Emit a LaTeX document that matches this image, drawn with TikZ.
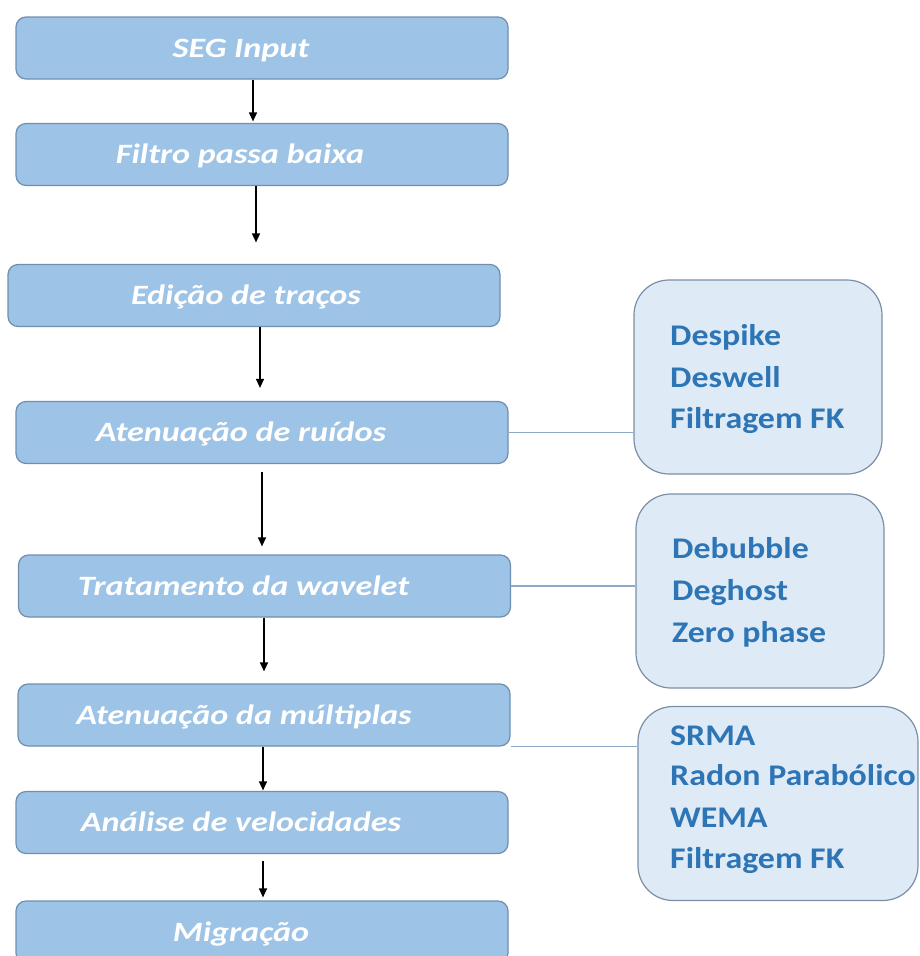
\documentclass[tikz,border=0pt]{standalone}
\usepackage{fontspec}
\setmainfont{Carlito}
\newfontfamily\stepfont[FakeStretch=1.22]{Carlito}
\newfontfamily\sidefont[FakeStretch=1.13]{Carlito}
\usetikzlibrary{arrows.meta,calc}
\definecolor{mainfill}{HTML}{9DC3E6}
\definecolor{mainedge}{HTML}{6F8FAF}
\definecolor{sidefill}{HTML}{DEEBF7}
\definecolor{sideedge}{HTML}{7A8FA6}
\definecolor{sidetext}{HTML}{2E75B6}
\definecolor{linkcol}{HTML}{8EA9C8}
\begin{document}
\begin{tikzpicture}[x=1pt,y=-1pt,
  stepbox/.style={draw=mainedge, fill=mainfill, line width=1.2pt, rounded corners=10pt,
    minimum width=492pt, minimum height=62pt, inner sep=0pt},
  steptext/.style={text=white, font=\stepfont\fontsize{28}{32}\selectfont\bfseries\itshape,
    inner sep=0pt, anchor=base},
  sidebox/.style={draw=sideedge, fill=sidefill, line width=1.2pt, rounded corners=35pt,
    minimum height=194pt, inner sep=0pt},
  sidetxt/.style={font=\sidefont\fontsize{30}{36}\selectfont\bfseries, text=sidetext,
    inner sep=0pt, anchor=base west},
  flow/.style={-{Triangle[length=9pt,width=8pt]}, line width=1.2pt, black},
  link/.style={draw=linkcol, line width=1.3pt}]
\useasboundingbox (0,0) rectangle (920,956);

% main flow boxes
\node[stepbox] (b1) at (262,48) {};
\node[stepbox] (b2) at (262,154.5) {};
\node[stepbox] (b3) at (254,295.5) {};
\node[stepbox] (b4) at (262,432.5) {};
\node[stepbox] (b5) at (264.5,586) {};
\node[stepbox] (b6) at (264,715) {};
\node[stepbox] (b7) at (262,822.5) {};
\node[stepbox] (b8) at (262,932) {};

% texts
\node[steptext] (t1) at ($(b1.center)+(-21,9)$) {SEG Input};
\node[steptext] (t2) at ($(b2.center)+(-22,9)$) {Filtro passa baixa};
\node[steptext] (t3) at ($(b3.center)+(-8,9)$) {Edição de traços};
\node[steptext] (t4) at ($(b4.center)+(-21,9)$) {Atenuação de ruídos};
\node[steptext] (t5) at ($(b5.center)+(-21,9)$) {Tratamento da wavelet};
\node[steptext] (t6) at ($(b6.center)+(-20,9)$) {Atenuação da múltiplas};
\node[steptext] (t7) at ($(b7.center)+(-21,9)$) {Análise de velocidades};
\node[steptext] (t8) at ($(b8.center)+(-21,9)$) {Migração};

% side boxes
\node[sidebox, minimum width=248pt] (sA) at (758,377) {};
\node[sidebox, minimum width=248pt] (sB) at (760,591) {};
\node[sidebox, minimum width=280pt] (sC) at (778,803.5) {};

\node[sidetxt] (a1) at (670,345) {Despike};
\node[sidetxt] (a2) at (670,387) {Deswell};
\node[sidetxt] (a3) at (670,428) {Filtragem FK};
\node[sidetxt] (w1) at (672,558) {Debubble};
\node[sidetxt] (w2) at (672,600) {Deghost};
\node[sidetxt] (w3) at (672,642) {Zero phase};
\node[sidetxt] (m1) at (670,745) {SRMA};
\node[sidetxt] (m2) at (670,785) {Radon Parabólico};
\node[sidetxt] (m3) at (670,827) {WEMA};
\node[sidetxt] (m4) at (670,868) {Filtragem FK};

% links
\draw[link] (b4.east) -- (b4.east -| sA.west);
\draw[link] (b5.east) -- (b5.east -| sB.west);
\draw[link] (b6.south east) -- (b6.south east -| sC.west);

% arrows
\draw[flow] ($(b1.south)+(-9,0)$) -- ($(b2.north)+(-9,-1.5)$);
\draw[flow] ($(b2.south)+(-6,0)$) -- ($(b3.north)+(2,-21.5)$);
\draw[flow] ($(b3.south)+(6,0)$) -- ($(b4.north)+(-2,-13)$);
\draw[flow] ($(b4.south)+(0,8)$) -- ($(b5.north)+(-2.5,-8)$);
\draw[flow] ($(b5.south)+(-0.5,0)$) -- ($(b6.north)+(0,-12)$);
\draw[flow] ($(b6.south)+(-1,0)$) -- ($(b7.north)+(1,-0.5)$);
\draw[flow] ($(b7.south)+(1,7)$) -- ($(b8.north)+(1,-3)$);
\end{tikzpicture}
\end{document}
